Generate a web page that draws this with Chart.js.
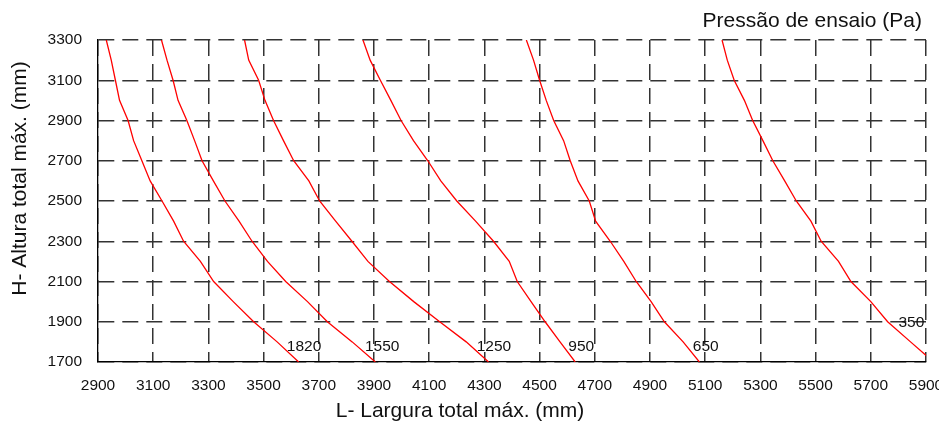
<!DOCTYPE html>
<html>
<head>
<meta charset="utf-8">
<script src="https://cdn.jsdelivr.net/npm/chart.js@4/dist/chart.umd.min.js"></script>
<style>
html,body{margin:0;padding:0;background:#fff;overflow:hidden}
#wrap{width:939px;height:423px;position:relative}
</style>
</head>
<body>
<div id="wrap"><canvas id="c" width="939" height="423"></canvas></div>
<script>
// ---- data ----
const heights = [3300,3200,3100,3000,2900,2800,2700,2600,2500,2400,2300,2200,2100,2000,1900,1800,1700];
const w1820 = [2930,2948,2963,2978,3009,3029,3059,3089,3132,3174,3210,3271,3319,3390,3464,3549,3627];
const w1550 = [3130,3150,3172,3190,3222,3250,3277,3318,3360,3411,3458,3514,3580,3659,3731,3821,3905];
const w1250 = [3431,3446,3482,3505,3536,3572,3609,3664,3703,3761,3820,3878,3956,4044,4138,4234,4315];
const w950  = [3860,3886,3923,3961,3998,4043,4095,4142,4200,4268,4333,4390,4419,4469,4520,4574,4629];
const w650  = [4452,4478,4500,4524,4551,4587,4611,4639,4680,4703,4756,4805,4850,4904,4952,5020,5079];
const w350  = [5161,5180,5205,5242,5272,5309,5345,5388,5430,5483,5520,5583,5628,5700,5761,5844,5928];
const pressureLabels = ['1820','1550','1250','950','650','350'];
const labelX = [3584,3867,4272,4604,5055,5800];
const labelY = [1776,1776,1776,1776,1776,1895];
const xMin = 2900, xMax = 5900, xStep = 200;
const yMin = 1700, yMax = 3300, yStep = 200;
const legendTitle = 'Pressão de ensaio (Pa)';
const xTitle = 'L- Largura total máx. (mm)';
const yTitle = 'H- Altura total máx. (mm)';

const seriesWidths = [w1820, w1550, w1250, w950, w650, w350];
const FONT = '"Liberation Sans", Arial, sans-serif';

const datasets = seriesWidths.map((ws, i) => ({
  label: pressureLabels[i],
  data: ws.map((w, j) => ({x: w, y: heights[j]})),
  showLine: true,
  borderColor: '#ff0000',
  borderWidth: 1.3,
  pointRadius: 0,
  tension: 0,
  fill: false,
  clip: 0
}));

const textPlugin = {
  id: 'texts',
  afterDraw(chart) {
    const ctx = chart.ctx;
    const xs = chart.scales.x, ys = chart.scales.y;
    ctx.save();
    ctx.fillStyle = '#111';
    // curve labels
    ctx.font = '15.5px ' + FONT;
    ctx.textAlign = 'left';
    ctx.textBaseline = 'middle';
    pressureLabels.forEach((t, i) => {
      ctx.fillText(t, xs.getPixelForValue(labelX[i]), ys.getPixelForValue(labelY[i]));
    });
    // titles
    ctx.font = '21px ' + FONT;
    ctx.textBaseline = 'alphabetic';
    ctx.textAlign = 'right';
    ctx.fillText(legendTitle, 922, 26.5);
    ctx.textAlign = 'center';
    ctx.fillText(xTitle, 460, 416.5);
    ctx.translate(25.5, 178.5);
    ctx.rotate(-Math.PI / 2);
    ctx.fillText(yTitle, 0, 0);
    ctx.restore();
  }
};

new Chart(document.getElementById('c'), {
  type: 'scatter',
  data: { datasets },
  plugins: [textPlugin],
  options: {
    responsive: false,
    animation: false,
    devicePixelRatio: 1,
    layout: { padding: { top: 40, right: 13, left: 0, bottom: 0 } },
    plugins: { legend: { display: false }, tooltip: { enabled: false } },
    scales: {
      x: {
        type: 'linear', min: xMin, max: xMax,
        ticks: { stepSize: xStep, color: '#111', font: { family: FONT, size: 15.5 }, padding: 14, maxRotation: 0, autoSkip: false,
                 callback: v => String(v) },
        grid: { color: '#333', lineWidth: 1.5, drawTicks: false },
        border: { display: true, color: '#000', width: 1.3, dash: [16, 8] },
        afterFit(s) { s.height = 61; s.paddingLeft = 0; s.paddingRight = 0; }
      },
      y: {
        type: 'linear', min: yMin, max: yMax,
        ticks: { stepSize: yStep, color: '#111', font: { family: FONT, size: 15.5 }, padding: 16,
                 callback: v => String(v) },
        grid: { color: '#333', lineWidth: 1.5, drawTicks: false },
        border: { display: true, color: '#000', width: 1.3, dash: [16, 8] },
        afterFit(s) { s.width = 98; s.paddingTop = 0; s.paddingBottom = 0; }
      }
    }
  }
});
</script>
</body>
</html>
